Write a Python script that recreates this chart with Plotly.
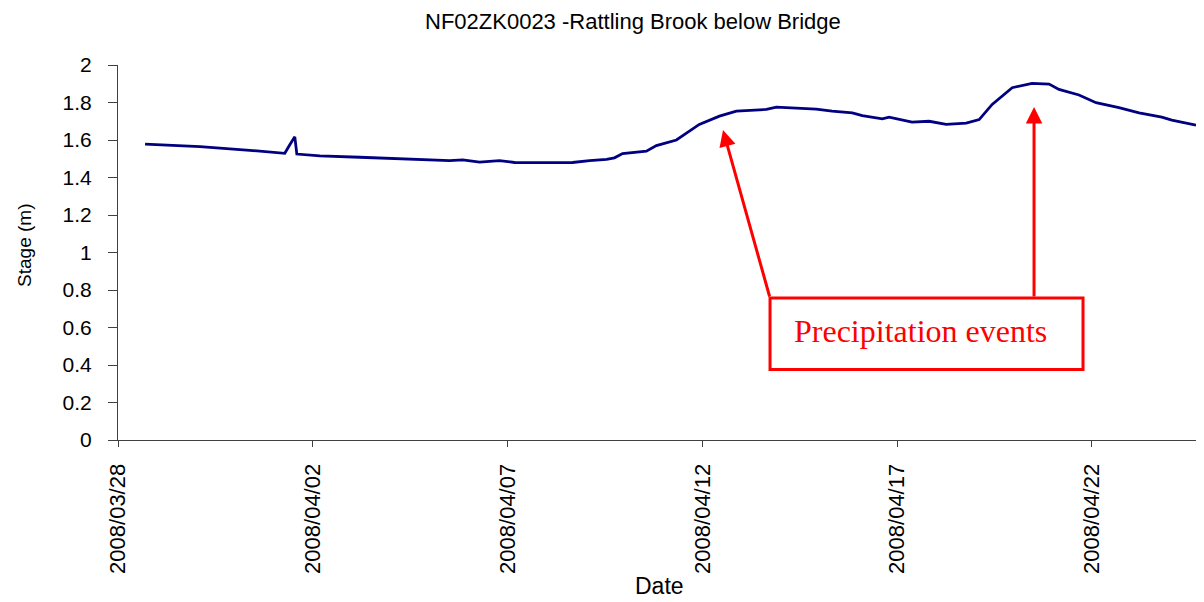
import plotly.graph_objects as go

# ---- data ----
times = [
    "2008-03-28 16:40", "2008-03-30 02:30", "2008-03-31 09:10", "2008-04-01 06:45",
    "2008-04-01 09:50", "2008-04-01 12:55", "2008-04-01 14:10", "2008-04-02 04:20",
    "2008-04-03 04:50", "2008-04-04 05:30", "2008-04-05 00:00", "2008-04-05 12:20",
    "2008-04-05 20:20", "2008-04-06 06:45", "2008-04-06 19:00", "2008-04-07 04:20",
    "2008-04-07 19:40", "2008-04-08 16:00", "2008-04-09 02:30", "2008-04-09 12:55",
    "2008-04-09 17:50", "2008-04-09 22:50", "2008-04-10 13:30", "2008-04-10 19:40",
    "2008-04-11 08:00", "2008-04-11 22:05", "2008-04-12 10:30", "2008-04-12 20:55",
    "2008-04-13 15:25", "2008-04-13 21:35", "2008-04-14 22:05", "2008-04-15 07:55",
    "2008-04-15 20:20", "2008-04-16 02:30", "2008-04-16 14:50", "2008-04-16 19:00",
    "2008-04-17 09:10", "2008-04-17 19:40", "2008-04-18 06:10", "2008-04-18 18:30",
    "2008-04-19 02:30", "2008-04-19 10:30", "2008-04-19 22:50", "2008-04-20 11:05",
    "2008-04-20 21:35", "2008-04-21 03:40", "2008-04-21 16:00", "2008-04-22 02:30",
    "2008-04-22 16:35", "2008-04-23 05:00", "2008-04-23 19:00", "2008-04-24 01:10",
    "2008-04-24 16:05",
]
stage_m = [
    1.578, 1.565, 1.545, 1.529,
    1.575, 1.617, 1.525, 1.515,
    1.508, 1.500, 1.494, 1.490,
    1.494, 1.482, 1.490, 1.480,
    1.479, 1.480, 1.490, 1.497,
    1.505, 1.528, 1.540, 1.570,
    1.600, 1.683, 1.727, 1.754,
    1.763, 1.775, 1.765, 1.754,
    1.745, 1.730, 1.713, 1.722,
    1.695, 1.700, 1.683, 1.690,
    1.709, 1.790, 1.879, 1.902,
    1.898, 1.870, 1.840, 1.799,
    1.773, 1.745, 1.722, 1.706,
    1.679,
]
tick_dates = ["2008-03-28", "2008-04-02", "2008-04-07", "2008-04-12", "2008-04-17", "2008-04-22"]
tick_labels = ["2008/03/28", "2008/04/02", "2008/04/07", "2008/04/12", "2008/04/17", "2008/04/22"]
x_range = ["2008-03-28 00:00", "2008-04-24 21:00"]

title_text = "NF02ZK0023 -Rattling Brook below Bridge"
callout_text = "Precipitation events"

FONT = "Arial, Liberation Sans, sans-serif"
AXIS_COLOR = "#404040"

fig = go.Figure()
fig.add_trace(go.Scatter(x=times, y=stage_m, mode="lines",
                         line=dict(color="#000080", width=2.8), showlegend=False))

# the page body adds an 8px margin, so the figure is 8px smaller and offset
fig.update_layout(
    width=1196, height=594,
    margin=dict(l=110, r=0, t=57, b=162),
    paper_bgcolor="white", plot_bgcolor="white",
    font=dict(family=FONT, color="black"),
    showlegend=False,
)
fig.update_xaxes(
    type="date", range=x_range, automargin=False,
    tickmode="array", tickvals=tick_dates, ticktext=tick_labels,
    tickangle=-90, tickfont=dict(size=22, family=FONT),
    ticks="outside", ticklen=6, tickcolor=AXIS_COLOR,
    ticklabelstandoff=8,
    showline=True, linecolor=AXIS_COLOR, linewidth=1,
    showgrid=False, zeroline=False,
)
fig.update_yaxes(
    range=[0, 2], dtick=0.2, tick0=0, automargin=False,
    tickfont=dict(size=21, family=FONT),
    ticks="outside", ticklen=9, tickcolor=AXIS_COLOR,
    ticklabelstandoff=12,
    showline=True, linecolor=AXIS_COLOR, linewidth=1,
    showgrid=False, zeroline=False,
)

annotations = [
    dict(text=title_text, xref="paper", yref="paper", x=0.4738, y=1.116,
         xanchor="center", yanchor="middle", showarrow=False,
         font=dict(size=22, family=FONT, color="black")),
    dict(text="Stage (m)", xref="paper", yref="paper", x=-0.0866, y=0.52,
         xanchor="center", yanchor="middle", textangle=-90, showarrow=False,
         font=dict(size=19, family=FONT, color="black")),
    dict(text="Date", xref="paper", yref="paper", x=0.499, y=-0.389,
         xanchor="center", yanchor="middle", showarrow=False,
         font=dict(size=23, family=FONT, color="black")),
    dict(text=callout_text, xref="paper", yref="paper", x=0.6206, y=0.2907,
         xanchor="left", yanchor="middle", showarrow=False,
         font=dict(size=32, family="Liberation Serif, Times New Roman, serif", color="#ff0000")),
    dict(text="", xref="paper", yref="paper", x=0.5571, y=0.8267,
         ax=47, ay=168, showarrow=True, arrowhead=2, arrowsize=1.1,
         arrowwidth=3, arrowcolor="#ff0000"),
    dict(text="", xref="paper", yref="paper", x=0.8435, y=0.888,
         ax=0, ay=191, showarrow=True, arrowhead=2, arrowsize=1.1,
         arrowwidth=3, arrowcolor="#ff0000"),
]
fig.update_layout(annotations=annotations)
fig.add_shape(type="rect", xref="paper", yref="paper",
              x0=0.6004, x1=0.8886, y0=0.188, y1=0.3787,
              line=dict(color="#ff0000", width=3), fillcolor="rgba(0,0,0,0)")

fig.write_html("out.html")
